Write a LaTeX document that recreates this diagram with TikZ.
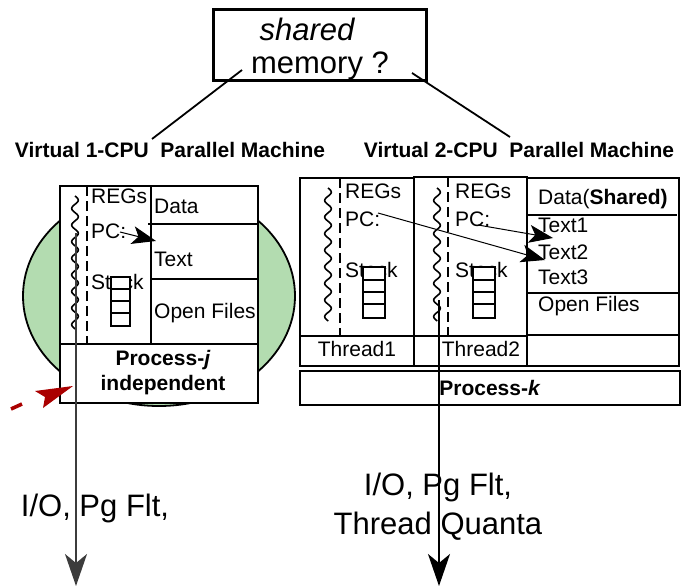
\documentclass[tikz,border=0pt]{standalone}
\usepackage{fontspec}
\setmainfont{Liberation Sans}
\usetikzlibrary{arrows.meta}
\definecolor{procgreen}{RGB}{179,220,176}
\definecolor{darkred}{RGB}{170,0,0}
\definecolor{flowgray}{RGB}{60,60,60}
% vertical squiggle marking a thread of control: x, top y, bottom y
\newcommand\wavyline[3]{\draw[line width=1.6pt] plot[domain=#2:#3, samples=160, smooth] ({#1+3.3*sin((\x-#2)*21.69)}, \x);}
\begin{document}
\begin{tikzpicture}[x=1pt,y=-1pt,
  box/.style={draw, line width=2.5pt},
  txt/.style={font=\fontsize{21}{23}\selectfont, inner sep=0pt, anchor=west},
  ctxt/.style={font=\fontsize{21}{23}\selectfont, inner sep=0pt},
  big/.style={font=\fontsize{31}{33}\selectfont, inner sep=0pt},
  title/.style={font=\fontsize{21}{23}\selectfont\bfseries, inner sep=0pt},
  sep/.style={line width=2.2pt, dash pattern=on 10pt off 5pt},
  ptr/.style={-{Stealth[length=24pt,width=18pt,inset=6pt]}, line width=1pt},
  flow/.style={-{Stealth[length=32pt,width=22pt,inset=9pt]}, line width=1.5pt},
  stackcell/.style={draw, line width=2.3pt, fill=white}]
\useasboundingbox (0,0) rectangle (694,586);

% ---- shared memory question box ----
\node[box, minimum width=213pt, minimum height=71pt, inner sep=0pt] (shm) at (320,45) {};
\node[big, font=\fontsize{31}{33}\selectfont\itshape] (shtxt) at (307,29) {shared};
\node[big] (memtxt) at (320,66) {memory ?};

\node[title] (vm1) at (170,150) {Virtual 1-CPU\ \ Parallel Machine};
\node[title] (vm2) at (519,150) {Virtual 2-CPU\ \ Parallel Machine};

\coordinate (shmL) at (242,70);
\coordinate (shmR) at (412,73);
\coordinate (vm1top) at (152,139);
\coordinate (vm2top) at (510,137);
\draw[line width=1.8pt] (shmL) -- (vm1top);
\draw[line width=1.8pt] (shmR) -- (vm2top);

% ---- single threaded process ----
\draw[fill=procgreen, line width=1.8pt] (159,296) ellipse [x radius=136pt, y radius=110pt];
\draw[box, fill=white] (60,186) rectangle (258,403);
\draw[box] (60,344) -- (258,344);
\draw[box] (151,186) -- (151,344);
\draw[box] (148,224) -- (258,224);
\draw[box] (151,279) -- (258,279);
\wavyline{75}{196}{329}
\draw[sep] (87,186) -- (87,344);

\node[txt] (regsA) at (91,196) {REGs};
\node[txt] (pcA) at (91,231) {PC:};
\node[txt] (stackA) at (91,282) {Stack};
\draw[stackcell] (111,277) rectangle (130,326);
\draw[line width=2.3pt] (111,289) -- (130,289) (111,301) -- (130,301) (111,313) -- (130,313);
\node[txt] (dataA) at (154,206) {Data};
\node[txt] (textA) at (154,259) {Text};
\node[txt] (filesA) at (154,313) {Open Files};
\node[ctxt, align=center, font=\fontsize{21}{25}\selectfont\bfseries] (procj) at (163,373) {Process-\textit{j}\\independent};
\coordinate (pcAend) at (120,232);
\coordinate (textAtip) at (156,241);
\draw[ptr] (pcAend) -- (textAtip);

% ---- two threaded process ----
\draw[box] (300,178) rectangle (414,366);
\draw[box] (300,336) -- (414,336);
\draw[box, line width=2.9pt] (414,177) rectangle (527,366);
\draw[box] (414,336) -- (527,336);
\draw[box] (527,178) rectangle (679,366);
\draw[box] (527,215) -- (677,215);
\draw[box] (527,293) -- (679,293);
\draw[box] (527,335) -- (679,335);
\draw[box] (300,371) rectangle (680,405);

\wavyline{328}{188}{321}
\draw[sep] (340,178) -- (340,336);
\wavyline{437}{188}{321}
\draw[sep] (448,177) -- (448,336);

\node[txt] (regs1) at (345,191) {REGs};
\node[txt] (pc1) at (345,219) {PC:};
\node[txt] (stack1) at (345,270) {Stack};
\draw[stackcell] (363,267) rectangle (385,318);
\draw[line width=2.3pt] (363,280) -- (385,280) (363,292) -- (385,292) (363,304) -- (385,304);

\node[txt] (regs2) at (455,191) {REGs};
\node[txt] (pc2) at (455,219) {PC:};
\node[txt] (stack2) at (455,270) {Stack};
\draw[stackcell] (473,267) rectangle (495,318);
\draw[line width=2.3pt] (473,280) -- (495,280) (473,292) -- (495,292) (473,304) -- (495,304);

\node[txt] (dataB) at (538,199) {Data(\textbf{Shared)}};
\node[txt] (text1) at (538,225) {Text1};
\node[txt] (text2) at (538,252) {Text2};
\node[txt] (text3) at (538,277) {Text3};
\node[txt] (filesB) at (538,306) {Open Files};
\node[ctxt] (th1) at (357,349) {Thread1};
\node[ctxt] (th2) at (481,349) {Thread2};
\node[ctxt, font=\fontsize{21}{23}\selectfont\bfseries] (prock) at (490,388) {Process-\textit{k}};

\coordinate (pc1end) at (378,213);
\coordinate (pc2end) at (478,225);
\coordinate (t2tip) at (545,260);
\coordinate (t1tip) at (553,238);
\draw[ptr] (pc1end) -- (t2tip);
\draw[ptr] (pc2end) -- (t1tip);

% ---- events leading out of the processes ----
\coordinate (outA) at (76,233);
\coordinate (outAend) at (76,586);
\coordinate (outB) at (439,300);
\coordinate (outBend) at (439,586);
\draw[flow, draw=flowgray, fill=black] (outA) -- (outAend);
\draw[flow] (outB) -- (outBend);

\node[big] (evA) at (95,508) {I/O, Pg Flt,};
\node[big, align=center, font=\fontsize{31}{39}\selectfont] (evB) at (438,507) {I/O, Pg Flt,\\Thread Quanta};

% ---- red pointer at the process box ----
\draw[darkred, line width=3.6pt] (11,409) -- (22,404);
\fill[darkred] (73,386) -- (35,391) -- (45,397) -- (43,408) -- cycle;
\end{tikzpicture}
\end{document}
